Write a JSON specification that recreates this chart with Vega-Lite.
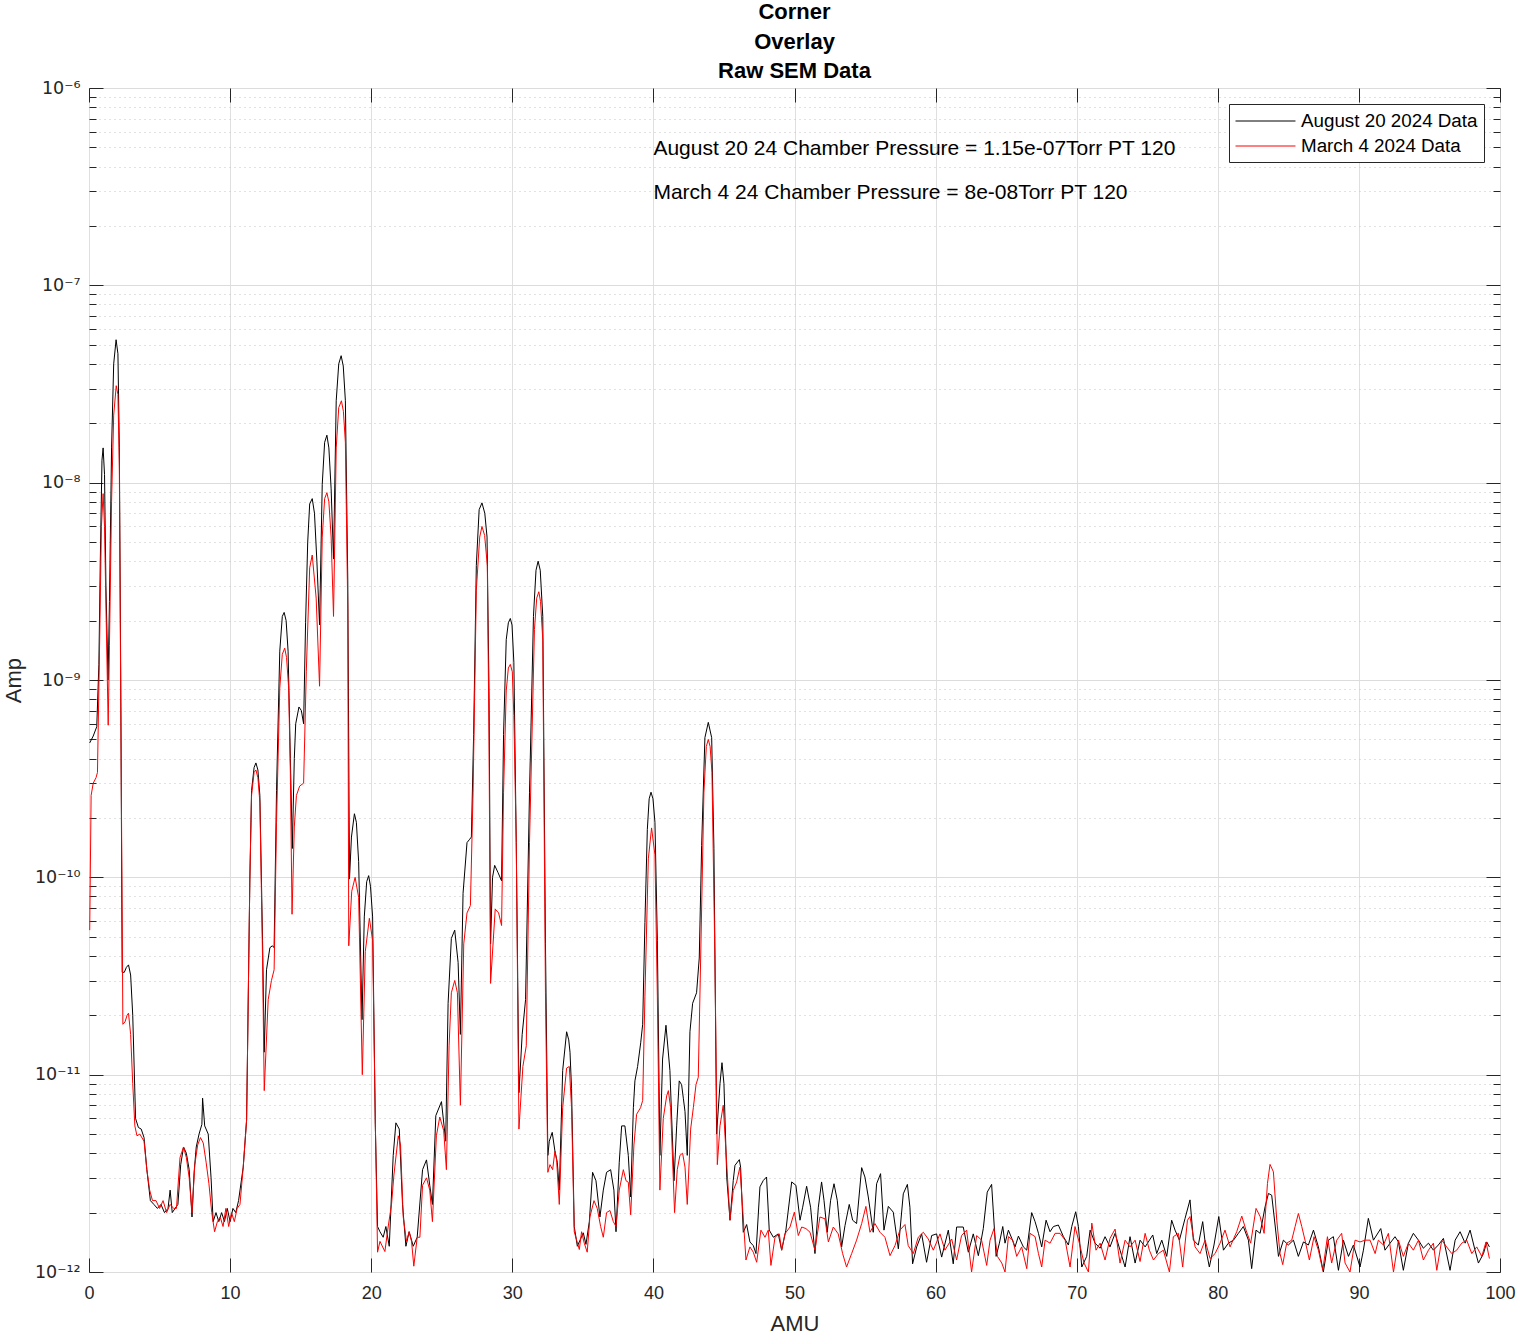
{
  "$schema": "https://vega.github.io/schema/vega-lite/v6.json",
  "autosize": {"type": "none"},
  "width": 1411,
  "height": 1184,
  "padding": {"left": 89, "top": 88, "right": 20, "bottom": 63},
  "background": "white",
  "config": {
    "font": "Liberation Sans",
    "view": {"stroke": "#262626", "strokeWidth": 1}
  },
  "title": {
    "text": ["Corner", "Overlay", "Raw SEM Data"],
    "fontSize": 22,
    "fontWeight": "bold",
    "color": "#000000",
    "lineHeight": 29.5,
    "offset": -4,
    "anchor": "middle"
  },
  "datasets": {
    "aug": [
      {"amu":0.05,"amp":4.8e-10},{"amu":0.3,"amp":5.2e-10},{"amu":0.55,"amp":5.8e-10},{"amu":0.7,"amp":1.2e-9},{"amu":0.8,"amp":4e-9},{"amu":0.92,"amp":1.3e-8},{"amu":1.0,"amp":1.5e-8},{"amu":1.1,"amp":1.1e-8},{"amu":1.2,"amp":3e-9},{"amu":1.35,"amp":1.0e-9},{"amu":1.45,"amp":2.5e-9},{"amu":1.6,"amp":1.5e-8},{"amu":1.75,"amp":4e-8},{"amu":1.92,"amp":5.3e-8},{"amu":2.05,"amp":4.5e-8},{"amu":2.15,"amp":1.5e-8},{"amu":2.25,"amp":1e-9},{"amu":2.35,"amp":3.3e-11},{"amu":2.5,"amp":3.3e-11},{"amu":2.65,"amp":3.5e-11},{"amu":2.8,"amp":3.6e-11},{"amu":2.95,"amp":3.2e-11},{"amu":3.1,"amp":2e-11},{"amu":3.3,"amp":6e-12},{"amu":3.5,"amp":5.4e-12},{"amu":3.7,"amp":5.3e-12},{"amu":3.9,"amp":4.8e-12},{"amu":4.1,"amp":3.3e-12},{"amu":4.35,"amp":2.3e-12},{"amu":4.6,"amp":2.2e-12},{"amu":4.85,"amp":2.1e-12},{"amu":5.1,"amp":2.2e-12},{"amu":5.35,"amp":2.0e-12},{"amu":5.6,"amp":2.1e-12},{"amu":5.75,"amp":2.6e-12},{"amu":5.9,"amp":2.0e-12},{"amu":6.1,"amp":2.1e-12},{"amu":6.3,"amp":2.2e-12},{"amu":6.5,"amp":3.5e-12},{"amu":6.7,"amp":4.3e-12},{"amu":6.9,"amp":4.0e-12},{"amu":7.1,"amp":3.3e-12},{"amu":7.3,"amp":1.9e-12},{"amu":7.45,"amp":3.2e-12},{"amu":7.6,"amp":4.3e-12},{"amu":7.8,"amp":5.0e-12},{"amu":8.0,"amp":5.6e-12},{"amu":8.05,"amp":7.6e-12},{"amu":8.2,"amp":5.5e-12},{"amu":8.45,"amp":5.0e-12},{"amu":8.65,"amp":3e-12},{"amu":8.8,"amp":1.8e-12},{"amu":9.0,"amp":2.0e-12},{"amu":9.2,"amp":1.8e-12},{"amu":9.4,"amp":2.0e-12},{"amu":9.6,"amp":1.8e-12},{"amu":9.8,"amp":2.1e-12},{"amu":10.0,"amp":1.8e-12},{"amu":10.2,"amp":2.1e-12},{"amu":10.4,"amp":2.0e-12},{"amu":10.6,"amp":2.3e-12},{"amu":10.93,"amp":3.4e-12},{"amu":11.17,"amp":5.9e-12},{"amu":11.4,"amp":9.8e-11},{"amu":11.52,"amp":2.75e-10},{"amu":11.7,"amp":3.6e-10},{"amu":11.83,"amp":3.8e-10},{"amu":11.97,"amp":3.5e-10},{"amu":12.11,"amp":2.6e-10},{"amu":12.3,"amp":4.8e-11},{"amu":12.42,"amp":1.3e-11},{"amu":12.58,"amp":3.4e-11},{"amu":12.82,"amp":4.4e-11},{"amu":13.0,"amp":4.5e-11},{"amu":13.12,"amp":4.4e-11},{"amu":13.29,"amp":2.75e-10},{"amu":13.52,"amp":1.4e-9},{"amu":13.7,"amp":2.1e-9},{"amu":13.83,"amp":2.2e-9},{"amu":13.97,"amp":2.0e-9},{"amu":14.11,"amp":1.4e-9},{"amu":14.27,"amp":4.0e-10},{"amu":14.41,"amp":1.4e-10},{"amu":14.55,"amp":4e-10},{"amu":14.65,"amp":6.0e-10},{"amu":14.88,"amp":7.3e-10},{"amu":15.05,"amp":7e-10},{"amu":15.21,"amp":6.0e-10},{"amu":15.35,"amp":1.95e-9},{"amu":15.5,"amp":5e-9},{"amu":15.64,"amp":7.8e-9},{"amu":15.82,"amp":8.3e-9},{"amu":15.98,"amp":7e-9},{"amu":16.15,"amp":4.0e-9},{"amu":16.34,"amp":1.9e-9},{"amu":16.53,"amp":9.8e-9},{"amu":16.7,"amp":1.6e-8},{"amu":16.86,"amp":1.74e-8},{"amu":17.0,"amp":1.5e-8},{"amu":17.16,"amp":9.3e-9},{"amu":17.33,"amp":4.1e-9},{"amu":17.52,"amp":2.6e-8},{"amu":17.7,"amp":4.0e-8},{"amu":17.87,"amp":4.4e-8},{"amu":18.02,"amp":3.9e-8},{"amu":18.17,"amp":2.6e-8},{"amu":18.34,"amp":3.2e-9},{"amu":18.46,"amp":9.8e-11},{"amu":18.6,"amp":1.6e-10},{"amu":18.81,"amp":2.1e-10},{"amu":18.95,"amp":1.9e-10},{"amu":19.11,"amp":1.2e-10},{"amu":19.35,"amp":1.9e-11},{"amu":19.51,"amp":6.3e-11},{"amu":19.68,"amp":9.5e-11},{"amu":19.82,"amp":1.02e-10},{"amu":19.95,"amp":9e-11},{"amu":20.1,"amp":6.3e-11},{"amu":20.29,"amp":5.6e-12},{"amu":20.45,"amp":1.7e-12},{"amu":20.62,"amp":1.6e-12},{"amu":20.85,"amp":1.5e-12},{"amu":21.04,"amp":1.7e-12},{"amu":21.28,"amp":1.35e-12},{"amu":21.56,"amp":3.9e-12},{"amu":21.75,"amp":5.7e-12},{"amu":21.99,"amp":5.3e-12},{"amu":22.22,"amp":2.2e-12},{"amu":22.46,"amp":1.35e-12},{"amu":22.69,"amp":1.6e-12},{"amu":22.98,"amp":1.35e-12},{"amu":23.26,"amp":1.5e-12},{"amu":23.64,"amp":3.3e-12},{"amu":23.92,"amp":3.7e-12},{"amu":24.15,"amp":2.75e-12},{"amu":24.34,"amp":2.2e-12},{"amu":24.58,"amp":6.2e-12},{"amu":24.98,"amp":7.3e-12},{"amu":25.28,"amp":4.6e-12},{"amu":25.45,"amp":2.3e-11},{"amu":25.68,"amp":4.9e-11},{"amu":25.92,"amp":5.4e-11},{"amu":26.16,"amp":3.7e-11},{"amu":26.32,"amp":1.6e-11},{"amu":26.51,"amp":8.3e-11},{"amu":26.79,"amp":1.5e-10},{"amu":26.95,"amp":1.55e-10},{"amu":27.1,"amp":1.6e-10},{"amu":27.26,"amp":5.3e-10},{"amu":27.45,"amp":3.8e-9},{"amu":27.65,"amp":7.3e-9},{"amu":27.85,"amp":7.9e-9},{"amu":28.05,"amp":7e-9},{"amu":28.21,"amp":5.3e-9},{"amu":28.35,"amp":8.7e-10},{"amu":28.46,"amp":4.6e-11},{"amu":28.6,"amp":1e-10},{"amu":28.75,"amp":1.15e-10},{"amu":28.98,"amp":1.06e-10},{"amu":29.24,"amp":9.6e-11},{"amu":29.38,"amp":5.3e-10},{"amu":29.57,"amp":1.6e-9},{"amu":29.72,"amp":1.95e-9},{"amu":29.86,"amp":2.05e-9},{"amu":29.98,"amp":1.9e-9},{"amu":30.11,"amp":1.23e-9},{"amu":30.28,"amp":1.5e-10},{"amu":30.47,"amp":8.1e-12},{"amu":30.7,"amp":1.6e-11},{"amu":30.94,"amp":2.4e-11},{"amu":31.22,"amp":2.7e-10},{"amu":31.5,"amp":2.1e-9},{"amu":31.68,"amp":3.6e-9},{"amu":31.83,"amp":4.0e-9},{"amu":31.98,"amp":3.6e-9},{"amu":32.16,"amp":2.1e-9},{"amu":32.35,"amp":4.6e-11},{"amu":32.52,"amp":3.9e-12},{"amu":32.62,"amp":4.6e-12},{"amu":32.83,"amp":5.1e-12},{"amu":33.02,"amp":4.1e-12},{"amu":33.19,"amp":3.6e-12},{"amu":33.33,"amp":2.6e-12},{"amu":33.57,"amp":1.05e-11},{"amu":33.85,"amp":1.65e-11},{"amu":34.0,"amp":1.5e-11},{"amu":34.09,"amp":1.3e-11},{"amu":34.2,"amp":8.5e-12},{"amu":34.39,"amp":1.7e-12},{"amu":34.61,"amp":1.35e-12},{"amu":34.8,"amp":1.45e-12},{"amu":35.03,"amp":1.58e-12},{"amu":35.22,"amp":1.38e-12},{"amu":35.46,"amp":1.8e-12},{"amu":35.69,"amp":3.2e-12},{"amu":35.93,"amp":2.9e-12},{"amu":36.21,"amp":1.9e-12},{"amu":36.45,"amp":2.6e-12},{"amu":36.68,"amp":3.2e-12},{"amu":36.97,"amp":3.3e-12},{"amu":37.2,"amp":2.6e-12},{"amu":37.35,"amp":1.6e-12},{"amu":37.58,"amp":3.6e-12},{"amu":37.75,"amp":5.5e-12},{"amu":37.98,"amp":5.5e-12},{"amu":38.22,"amp":3.9e-12},{"amu":38.39,"amp":2.4e-12},{"amu":38.58,"amp":6.8e-12},{"amu":38.69,"amp":9.3e-12},{"amu":38.88,"amp":1.1e-11},{"amu":39.1,"amp":1.45e-11},{"amu":39.24,"amp":1.8e-11},{"amu":39.4,"amp":5.9e-11},{"amu":39.57,"amp":1.75e-10},{"amu":39.7,"amp":2.5e-10},{"amu":39.83,"amp":2.7e-10},{"amu":39.97,"amp":2.5e-10},{"amu":40.11,"amp":1.9e-10},{"amu":40.28,"amp":4.8e-11},{"amu":40.46,"amp":3.9e-12},{"amu":40.65,"amp":1.2e-11},{"amu":40.89,"amp":1.78e-11},{"amu":41.17,"amp":1.05e-11},{"amu":41.46,"amp":2.9e-12},{"amu":41.65,"amp":5.5e-12},{"amu":41.83,"amp":9.3e-12},{"amu":42.0,"amp":8.9e-12},{"amu":42.12,"amp":7.6e-12},{"amu":42.24,"amp":6.5e-12},{"amu":42.4,"amp":3.9e-12},{"amu":42.59,"amp":1.65e-11},{"amu":42.78,"amp":2.3e-11},{"amu":43.06,"amp":2.6e-11},{"amu":43.25,"amp":3.9e-11},{"amu":43.42,"amp":1.45e-10},{"amu":43.65,"amp":5.1e-10},{"amu":43.89,"amp":6.1e-10},{"amu":44.13,"amp":5.1e-10},{"amu":44.29,"amp":1.4e-10},{"amu":44.48,"amp":5e-12},{"amu":44.72,"amp":9e-12},{"amu":44.86,"amp":1.15e-11},{"amu":45.0,"amp":9e-12},{"amu":45.2,"amp":3e-12},
      {"amu":45.43,"amp":1.83e-12},{"amu":45.66,"amp":2.91e-12},{"amu":45.78,"amp":3.47e-12},{"amu":46.09,"amp":3.71e-12},{"amu":46.18,"amp":3.40e-12},{"amu":46.37,"amp":1.59e-12},{"amu":46.61,"amp":1.74e-12},{"amu":46.84,"amp":1.42e-12},{"amu":47.08,"amp":1.36e-12},{"amu":47.27,"amp":1.24e-12},{"amu":47.55,"amp":2.70e-12},{"amu":47.79,"amp":2.91e-12},{"amu":48.02,"amp":3.03e-12},{"amu":48.21,"amp":1.63e-12},{"amu":48.5,"amp":1.50e-12},{"amu":48.85,"amp":1.56e-12},{"amu":49.09,"amp":1.29e-12},{"amu":49.39,"amp":1.63e-12},{"amu":49.8,"amp":2.86e-12},{"amu":50.1,"amp":2.75e-12},{"amu":50.39,"amp":1.83e-12},{"amu":50.58,"amp":2.13e-12},{"amu":50.86,"amp":2.72e-12},{"amu":51.14,"amp":2.13e-12},{"amu":51.45,"amp":1.24e-12},{"amu":51.69,"amp":2.13e-12},{"amu":51.92,"amp":2.86e-12},{"amu":52.09,"amp":2.31e-12},{"amu":52.32,"amp":1.59e-12},{"amu":52.56,"amp":2.31e-12},{"amu":52.8,"amp":2.80e-12},{"amu":53.03,"amp":2.31e-12},{"amu":53.34,"amp":1.34e-12},{"amu":53.58,"amp":1.72e-12},{"amu":53.88,"amp":2.20e-12},{"amu":54.12,"amp":1.83e-12},{"amu":54.4,"amp":1.76e-12},{"amu":54.76,"amp":3.38e-12},{"amu":54.99,"amp":3.03e-12},{"amu":55.23,"amp":2.40e-12},{"amu":55.58,"amp":1.59e-12},{"amu":55.82,"amp":2.80e-12},{"amu":56.1,"amp":3.15e-12},{"amu":56.34,"amp":1.63e-12},{"amu":56.65,"amp":2.15e-12},{"amu":57.0,"amp":2.01e-12},{"amu":57.36,"amp":1.31e-12},{"amu":57.71,"amp":2.49e-12},{"amu":58.0,"amp":2.78e-12},{"amu":58.18,"amp":2.13e-12},{"amu":58.37,"amp":1.10e-12},{"amu":58.66,"amp":1.34e-12},{"amu":59.01,"amp":1.56e-12},{"amu":59.36,"amp":1.12e-12},{"amu":59.72,"amp":1.53e-12},{"amu":60.07,"amp":1.56e-12},{"amu":60.43,"amp":1.19e-12},{"amu":60.9,"amp":1.63e-12},{"amu":61.25,"amp":1.10e-12},{"amu":61.49,"amp":1.69e-12},{"amu":61.96,"amp":1.69e-12},{"amu":62.32,"amp":1.26e-12},{"amu":62.67,"amp":1.56e-12},{"amu":63.03,"amp":1.21e-12},{"amu":63.38,"amp":1.66e-12},{"amu":63.66,"amp":2.54e-12},{"amu":63.97,"amp":2.78e-12},
      {"amu":64.29,"amp":1.20e-12},{"amu":64.52,"amp":1.40e-12},{"amu":64.76,"amp":1.70e-12},{"amu":64.92,"amp":1.40e-12},{"amu":65.16,"amp":1.63e-12},{"amu":65.4,"amp":1.48e-12},{"amu":65.63,"amp":1.34e-12},{"amu":65.87,"amp":1.52e-12},{"amu":66.22,"amp":1.34e-12},{"amu":66.46,"amp":1.29e-12},{"amu":66.81,"amp":2.0e-12},{"amu":67.05,"amp":1.80e-12},{"amu":67.29,"amp":1.57e-12},{"amu":67.52,"amp":1.34e-12},{"amu":67.83,"amp":1.83e-12},{"amu":68.11,"amp":1.60e-12},{"amu":68.35,"amp":1.70e-12},{"amu":68.7,"amp":1.73e-12},{"amu":69.06,"amp":1.51e-12},{"amu":69.41,"amp":1.37e-12},{"amu":69.65,"amp":1.70e-12},{"amu":69.93,"amp":2.02e-12},{"amu":70.12,"amp":1.70e-12},{"amu":70.36,"amp":1.06e-12},{"amu":70.71,"amp":1.20e-12},{"amu":70.95,"amp":1.63e-12},{"amu":71.3,"amp":1.40e-12},{"amu":71.66,"amp":1.32e-12},{"amu":72.01,"amp":1.51e-12},{"amu":72.36,"amp":1.34e-12},{"amu":72.72,"amp":1.57e-12},{"amu":73.07,"amp":1.29e-12},{"amu":73.43,"amp":1.06e-12},{"amu":73.78,"amp":1.51e-12},{"amu":74.14,"amp":1.11e-12},{"amu":74.49,"amp":1.45e-12},{"amu":74.85,"amp":1.34e-12},{"amu":75.39,"amp":1.54e-12},{"amu":75.67,"amp":1.24e-12},{"amu":76.03,"amp":1.45e-12},{"amu":76.38,"amp":1.20e-12},{"amu":76.73,"amp":1.83e-12},{"amu":76.97,"amp":1.63e-12},{"amu":77.28,"amp":1.45e-12},{"amu":77.68,"amp":1.87e-12},{"amu":78.03,"amp":2.32e-12},{"amu":78.27,"amp":1.45e-12},{"amu":78.62,"amp":1.37e-12},{"amu":78.93,"amp":1.80e-12},{"amu":79.17,"amp":1.29e-12},{"amu":79.4,"amp":1.06e-12},{"amu":79.73,"amp":1.37e-12},{"amu":80.07,"amp":1.91e-12},{"amu":80.4,"amp":1.29e-12},{"amu":80.75,"amp":1.40e-12},{"amu":81.11,"amp":1.45e-12},{"amu":81.46,"amp":1.57e-12},{"amu":81.81,"amp":1.70e-12},{"amu":82.17,"amp":1.45e-12},{"amu":82.4,"amp":1.04e-12},{"amu":82.71,"amp":1.63e-12},{"amu":83.0,"amp":1.57e-12},{"amu":83.35,"amp":2.14e-12},{"amu":83.59,"amp":2.50e-12},{"amu":83.82,"amp":2.45e-12},{"amu":84.06,"amp":1.73e-12},{"amu":84.3,"amp":1.20e-12},{"amu":84.65,"amp":1.45e-12},{"amu":85.0,"amp":1.37e-12},{"amu":85.36,"amp":1.45e-12},{"amu":85.71,"amp":1.20e-12},{"amu":86.07,"amp":1.42e-12},{"amu":86.42,"amp":1.37e-12},{"amu":86.78,"amp":1.63e-12},{"amu":87.13,"amp":1.34e-12},{"amu":87.48,"amp":1.0e-12},{"amu":87.84,"amp":1.45e-12},{"amu":88.19,"amp":1.51e-12},{"amu":88.55,"amp":1.02e-12},{"amu":88.9,"amp":1.45e-12},{"amu":89.26,"amp":1.20e-12},{"amu":89.61,"amp":1.37e-12},{"amu":90.08,"amp":1.06e-12},{"amu":90.32,"amp":1.29e-12},{"amu":90.67,"amp":1.87e-12},{"amu":91.03,"amp":1.45e-12},{"amu":91.55,"amp":1.66e-12},{"amu":91.85,"amp":1.29e-12},{"amu":92.21,"amp":1.40e-12},{"amu":92.56,"amp":1.51e-12},{"amu":92.8,"amp":1.42e-12},{"amu":93.15,"amp":1.02e-12},{"amu":93.51,"amp":1.40e-12},{"amu":93.86,"amp":1.57e-12},{"amu":94.22,"amp":1.45e-12},{"amu":94.57,"amp":1.32e-12},{"amu":94.93,"amp":1.40e-12},{"amu":95.28,"amp":1.29e-12},{"amu":95.63,"amp":1.37e-12},{"amu":95.99,"amp":1.48e-12},{"amu":96.46,"amp":1.02e-12},{"amu":96.82,"amp":1.45e-12},{"amu":97.17,"amp":1.60e-12},{"amu":97.53,"amp":1.40e-12},{"amu":97.88,"amp":1.63e-12},{"amu":98.23,"amp":1.29e-12},{"amu":98.47,"amp":1.11e-12},{"amu":98.83,"amp":1.24e-12},{"amu":99.06,"amp":1.42e-12},{"amu":99.25,"amp":1.34e-12}
    ],
    "mar": [
      {"amu":0.05,"amp":5.4e-11},{"amu":0.15,"amp":2.6e-10},{"amu":0.3,"amp":3.0e-10},{"amu":0.5,"amp":3.2e-10},{"amu":0.6,"amp":3.4e-10},{"amu":0.75,"amp":1.5e-9},{"amu":0.88,"amp":6e-9},{"amu":1.0,"amp":8.8e-9},{"amu":1.1,"amp":6e-9},{"amu":1.22,"amp":2e-9},{"amu":1.36,"amp":5.9e-10},{"amu":1.45,"amp":1.5e-9},{"amu":1.6,"amp":8e-9},{"amu":1.75,"amp":2.2e-8},{"amu":1.93,"amp":3.1e-8},{"amu":2.05,"amp":2.8e-8},{"amu":2.15,"amp":1.2e-8},{"amu":2.25,"amp":8e-10},{"amu":2.4,"amp":1.8e-11},{"amu":2.55,"amp":1.85e-11},{"amu":2.7,"amp":2.0e-11},{"amu":2.8,"amp":2.05e-11},{"amu":2.95,"amp":1.6e-11},{"amu":3.1,"amp":9e-12},{"amu":3.25,"amp":5.5e-12},{"amu":3.4,"amp":4.9e-12},{"amu":3.6,"amp":5.0e-12},{"amu":3.9,"amp":4.6e-12},{"amu":4.1,"amp":3.3e-12},{"amu":4.3,"amp":2.6e-12},{"amu":4.5,"amp":2.3e-12},{"amu":4.75,"amp":2.3e-12},{"amu":5.0,"amp":2.1e-12},{"amu":5.25,"amp":2.3e-12},{"amu":5.5,"amp":2.0e-12},{"amu":5.75,"amp":2.2e-12},{"amu":6.0,"amp":2.1e-12},{"amu":6.2,"amp":2.1e-12},{"amu":6.45,"amp":3.8e-12},{"amu":6.7,"amp":4.3e-12},{"amu":6.9,"amp":3.8e-12},{"amu":7.1,"amp":3.0e-12},{"amu":7.3,"amp":2.0e-12},{"amu":7.5,"amp":3.5e-12},{"amu":7.7,"amp":4.4e-12},{"amu":7.9,"amp":4.8e-12},{"amu":8.1,"amp":4.5e-12},{"amu":8.3,"amp":3.6e-12},{"amu":8.5,"amp":2.8e-12},{"amu":8.7,"amp":2.0e-12},{"amu":8.9,"amp":1.6e-12},{"amu":9.1,"amp":1.8e-12},{"amu":9.3,"amp":1.9e-12},{"amu":9.5,"amp":1.7e-12},{"amu":9.7,"amp":2.1e-12},{"amu":9.9,"amp":1.7e-12},{"amu":10.1,"amp":2.0e-12},{"amu":10.3,"amp":1.8e-12},{"amu":10.5,"amp":2.1e-12},{"amu":10.7,"amp":2.2e-12},{"amu":10.93,"amp":3.4e-12},{"amu":11.17,"amp":5.9e-12},{"amu":11.4,"amp":9.8e-11},{"amu":11.52,"amp":2.6e-10},{"amu":11.7,"amp":3.4e-10},{"amu":11.83,"amp":3.5e-10},{"amu":11.97,"amp":3.2e-10},{"amu":12.11,"amp":2.4e-10},{"amu":12.3,"amp":3.9e-11},{"amu":12.42,"amp":8.3e-12},{"amu":12.7,"amp":2.4e-11},{"amu":12.93,"amp":3e-11},{"amu":13.12,"amp":3.4e-11},{"amu":13.29,"amp":1.9e-10},{"amu":13.52,"amp":9.1e-10},{"amu":13.7,"amp":1.35e-9},{"amu":13.87,"amp":1.45e-9},{"amu":14.0,"amp":1.3e-9},{"amu":14.15,"amp":9.1e-10},{"amu":14.27,"amp":3.4e-10},{"amu":14.39,"amp":6.5e-11},{"amu":14.55,"amp":1.8e-10},{"amu":14.7,"amp":2.6e-10},{"amu":14.93,"amp":2.9e-10},{"amu":15.21,"amp":3.0e-10},{"amu":15.4,"amp":1.1e-9},{"amu":15.64,"amp":3.7e-9},{"amu":15.82,"amp":4.3e-9},{"amu":16.1,"amp":2.6e-9},{"amu":16.34,"amp":9.3e-10},{"amu":16.53,"amp":5.3e-9},{"amu":16.7,"amp":8.3e-9},{"amu":16.86,"amp":8.9e-9},{"amu":17.0,"amp":8e-9},{"amu":17.16,"amp":5.3e-9},{"amu":17.33,"amp":2.1e-9},{"amu":17.52,"amp":1.5e-8},{"amu":17.7,"amp":2.4e-8},{"amu":17.89,"amp":2.6e-8},{"amu":18.03,"amp":2.3e-8},{"amu":18.17,"amp":1.6e-8},{"amu":18.34,"amp":2.3e-9},{"amu":18.41,"amp":4.5e-11},{"amu":18.62,"amp":8.5e-11},{"amu":18.86,"amp":1e-10},{"amu":19.11,"amp":7.9e-11},{"amu":19.37,"amp":1e-11},{"amu":19.58,"amp":4.2e-11},{"amu":19.87,"amp":6.2e-11},{"amu":20.1,"amp":4.8e-11},{"amu":20.29,"amp":5.9e-12},{"amu":20.45,"amp":1.26e-12},{"amu":20.62,"amp":1.43e-12},{"amu":20.97,"amp":1.27e-12},{"amu":21.21,"amp":1.71e-12},{"amu":21.44,"amp":2.2e-12},{"amu":21.61,"amp":3.1e-12},{"amu":21.92,"amp":4.9e-12},{"amu":22.08,"amp":4.4e-12},{"amu":22.27,"amp":1.9e-12},{"amu":22.5,"amp":1.43e-12},{"amu":22.69,"amp":1.6e-12},{"amu":22.86,"amp":1.43e-12},{"amu":23.02,"amp":1.07e-12},{"amu":23.26,"amp":1.5e-12},{"amu":23.45,"amp":1.5e-12},{"amu":23.64,"amp":2.75e-12},{"amu":23.92,"amp":3.0e-12},{"amu":24.15,"amp":2.6e-12},{"amu":24.34,"amp":1.8e-12},{"amu":24.62,"amp":4.9e-12},{"amu":24.86,"amp":6.1e-12},{"amu":25.14,"amp":5.2e-12},{"amu":25.33,"amp":3.3e-12},{"amu":25.52,"amp":1.4e-11},{"amu":25.68,"amp":2.6e-11},{"amu":25.92,"amp":3.0e-11},{"amu":26.11,"amp":2.6e-11},{"amu":26.32,"amp":7e-12},{"amu":26.56,"amp":4.6e-11},{"amu":26.79,"amp":6.6e-11},{"amu":27.03,"amp":7.2e-11},{"amu":27.22,"amp":2.7e-10},{"amu":27.45,"amp":2.85e-9},{"amu":27.69,"amp":5.3e-9},{"amu":27.85,"amp":6.0e-9},{"amu":28.04,"amp":5.4e-9},{"amu":28.23,"amp":3.8e-9},{"amu":28.35,"amp":4.9e-10},{"amu":28.46,"amp":2.9e-11},{"amu":28.79,"amp":6.9e-11},{"amu":29.03,"amp":6.6e-11},{"amu":29.24,"amp":5.7e-11},{"amu":29.38,"amp":2.7e-10},{"amu":29.57,"amp":8.8e-10},{"amu":29.72,"amp":1.15e-9},{"amu":29.86,"amp":1.2e-9},{"amu":30.0,"amp":1.1e-9},{"amu":30.11,"amp":6.6e-10},{"amu":30.28,"amp":1.5e-10},{"amu":30.47,"amp":5.3e-12},{"amu":30.75,"amp":1.1e-11},{"amu":30.99,"amp":1.4e-11},{"amu":31.22,"amp":1.5e-10},{"amu":31.57,"amp":1.8e-9},{"amu":31.73,"amp":2.6e-9},{"amu":31.88,"amp":2.8e-9},{"amu":32.0,"amp":2.5e-9},{"amu":32.16,"amp":1.6e-9},{"amu":32.35,"amp":2.6e-11},{"amu":32.52,"amp":3.2e-12},{"amu":32.67,"amp":3.5e-12},{"amu":32.86,"amp":3.3e-12},{"amu":33.02,"amp":4.1e-12},{"amu":33.14,"amp":3.7e-12},{"amu":33.33,"amp":2.2e-12},{"amu":33.57,"amp":6.8e-12},{"amu":33.85,"amp":1.08e-11},{"amu":34.04,"amp":1.1e-11},{"amu":34.2,"amp":6.8e-12},{"amu":34.39,"amp":1.6e-12},{"amu":34.56,"amp":1.45e-12},{"amu":34.75,"amp":1.3e-12},{"amu":34.91,"amp":1.6e-12},{"amu":35.1,"amp":1.4e-12},{"amu":35.31,"amp":1.26e-12},{"amu":35.5,"amp":1.9e-12},{"amu":35.79,"amp":2.3e-12},{"amu":36.02,"amp":2.1e-12},{"amu":36.26,"amp":1.7e-12},{"amu":36.45,"amp":1.5e-12},{"amu":36.68,"amp":2.0e-12},{"amu":36.92,"amp":2.05e-12},{"amu":37.16,"amp":1.8e-12},{"amu":37.35,"amp":1.7e-12},{"amu":37.58,"amp":2.6e-12},{"amu":37.87,"amp":3.3e-12},{"amu":38.06,"amp":2.9e-12},{"amu":38.22,"amp":2.85e-12},{"amu":38.39,"amp":1.95e-12},{"amu":38.62,"amp":4.4e-12},{"amu":38.81,"amp":6.3e-12},{"amu":39.09,"amp":6.8e-12},{"amu":39.24,"amp":7.4e-12},{"amu":39.4,"amp":2.5e-11},{"amu":39.64,"amp":1.24e-10},{"amu":39.87,"amp":1.78e-10},{"amu":40.11,"amp":1.3e-10},{"amu":40.28,"amp":2.5e-11},{"amu":40.46,"amp":2.6e-12},{"amu":40.7,"amp":6.0e-12},{"amu":40.94,"amp":7.8e-12},{"amu":41.06,"amp":8.3e-12},{"amu":41.22,"amp":6.8e-12},{"amu":41.5,"amp":2.0e-12},{"amu":41.69,"amp":3.3e-12},{"amu":41.88,"amp":3.9e-12},{"amu":42.07,"amp":4.0e-12},{"amu":42.24,"amp":3.4e-12},{"amu":42.4,"amp":2.2e-12},{"amu":42.64,"amp":5.3e-12},{"amu":42.83,"amp":6.8e-12},{"amu":43.02,"amp":8.9e-12},{"amu":43.18,"amp":9.7e-12},{"amu":43.35,"amp":3.9e-11},{"amu":43.58,"amp":2.7e-10},{"amu":43.75,"amp":4.6e-10},{"amu":43.89,"amp":5.0e-10},{"amu":44.02,"amp":4.6e-10},{"amu":44.15,"amp":3.4e-10},{"amu":44.36,"amp":3.9e-11},{"amu":44.53,"amp":3.5e-12},{"amu":44.72,"amp":5.5e-12},{"amu":44.95,"amp":7e-12},{"amu":45.15,"amp":4e-12},
      {"amu":45.43,"amp":1.83e-12},{"amu":45.66,"amp":2.59e-12},{"amu":45.9,"amp":2.86e-12},{"amu":46.13,"amp":3.40e-12},{"amu":46.32,"amp":2.13e-12},{"amu":46.56,"amp":1.15e-12},{"amu":46.84,"amp":1.34e-12},{"amu":47.08,"amp":1.26e-12},{"amu":47.32,"amp":1.12e-12},{"amu":47.62,"amp":1.63e-12},{"amu":47.91,"amp":1.50e-12},{"amu":48.14,"amp":1.63e-12},{"amu":48.33,"amp":1.08e-12},{"amu":48.62,"amp":1.50e-12},{"amu":48.92,"amp":1.56e-12},{"amu":49.09,"amp":1.29e-12},{"amu":49.32,"amp":1.56e-12},{"amu":49.68,"amp":1.69e-12},{"amu":49.99,"amp":2.01e-12},{"amu":50.27,"amp":1.53e-12},{"amu":50.51,"amp":1.69e-12},{"amu":50.81,"amp":1.66e-12},{"amu":51.1,"amp":1.59e-12},{"amu":51.45,"amp":1.29e-12},{"amu":51.8,"amp":1.90e-12},{"amu":52.16,"amp":1.86e-12},{"amu":52.4,"amp":1.42e-12},{"amu":52.75,"amp":1.69e-12},{"amu":53.1,"amp":1.56e-12},{"amu":53.41,"amp":1.24e-12},{"amu":53.69,"amp":1.06e-12},{"amu":54.05,"amp":1.24e-12},{"amu":54.4,"amp":1.45e-12},{"amu":54.76,"amp":1.76e-12},{"amu":55.06,"amp":2.15e-12},{"amu":55.35,"amp":1.59e-12},{"amu":55.7,"amp":1.76e-12},{"amu":56.06,"amp":1.59e-12},{"amu":56.41,"amp":1.50e-12},{"amu":56.77,"amp":1.21e-12},{"amu":57.12,"amp":1.36e-12},{"amu":57.47,"amp":1.63e-12},{"amu":57.83,"amp":1.74e-12},{"amu":58.06,"amp":1.36e-12},{"amu":58.42,"amp":1.24e-12},{"amu":58.77,"amp":1.50e-12},{"amu":59.13,"amp":1.59e-12},{"amu":59.48,"amp":1.47e-12},{"amu":59.84,"amp":1.29e-12},{"amu":60.31,"amp":1.56e-12},{"amu":60.66,"amp":1.29e-12},{"amu":61.14,"amp":1.47e-12},{"amu":61.49,"amp":1.15e-12},{"amu":61.84,"amp":1.53e-12},{"amu":62.2,"amp":1.63e-12},{"amu":62.55,"amp":1.0e-12},{"amu":62.91,"amp":1.53e-12},{"amu":63.26,"amp":1.45e-12},{"amu":63.62,"amp":1.08e-12},
      {"amu":63.86,"amp":1.45e-12},{"amu":64.14,"amp":1.66e-12},{"amu":64.38,"amp":1.20e-12},{"amu":64.69,"amp":1.11e-12},{"amu":64.92,"amp":1.0e-12},{"amu":65.16,"amp":1.51e-12},{"amu":65.47,"amp":1.45e-12},{"amu":65.75,"amp":1.20e-12},{"amu":66.1,"amp":1.34e-12},{"amu":66.46,"amp":1.04e-12},{"amu":66.69,"amp":1.57e-12},{"amu":67.05,"amp":1.51e-12},{"amu":67.29,"amp":1.24e-12},{"amu":67.52,"amp":1.06e-12},{"amu":67.76,"amp":1.45e-12},{"amu":68.11,"amp":1.40e-12},{"amu":68.47,"amp":1.57e-12},{"amu":68.82,"amp":1.57e-12},{"amu":69.18,"amp":1.45e-12},{"amu":69.53,"amp":1.06e-12},{"amu":69.88,"amp":1.70e-12},{"amu":70.19,"amp":1.40e-12},{"amu":70.52,"amp":1.11e-12},{"amu":70.83,"amp":1.0e-12},{"amu":71.07,"amp":1.77e-12},{"amu":71.37,"amp":1.29e-12},{"amu":71.66,"amp":1.40e-12},{"amu":72.01,"amp":1.15e-12},{"amu":72.36,"amp":1.48e-12},{"amu":72.72,"amp":1.65e-12},{"amu":73.07,"amp":1.11e-12},{"amu":73.43,"amp":1.45e-12},{"amu":73.78,"amp":1.34e-12},{"amu":74.14,"amp":1.45e-12},{"amu":74.49,"amp":1.13e-12},{"amu":74.85,"amp":1.57e-12},{"amu":75.15,"amp":1.29e-12},{"amu":75.44,"amp":1.15e-12},{"amu":75.79,"amp":1.24e-12},{"amu":76.14,"amp":1.29e-12},{"amu":76.57,"amp":1.0e-12},{"amu":76.85,"amp":1.51e-12},{"amu":77.21,"amp":1.57e-12},{"amu":77.51,"amp":1.06e-12},{"amu":77.85,"amp":1.83e-12},{"amu":78.03,"amp":1.91e-12},{"amu":78.39,"amp":1.34e-12},{"amu":78.74,"amp":1.24e-12},{"amu":79.1,"amp":1.45e-12},{"amu":79.45,"amp":1.17e-12},{"amu":79.81,"amp":1.24e-12},{"amu":80.16,"amp":1.40e-12},{"amu":80.51,"amp":1.63e-12},{"amu":80.87,"amp":1.34e-12},{"amu":81.34,"amp":1.60e-12},{"amu":81.7,"amp":1.92e-12},{"amu":82.0,"amp":1.63e-12},{"amu":82.33,"amp":1.40e-12},{"amu":82.71,"amp":2.10e-12},{"amu":83.0,"amp":1.91e-12},{"amu":83.28,"amp":1.57e-12},{"amu":83.52,"amp":2.81e-12},{"amu":83.7,"amp":3.51e-12},{"amu":83.94,"amp":3.22e-12},{"amu":84.18,"amp":1.83e-12},{"amu":84.41,"amp":1.24e-12},{"amu":84.6,"amp":1.09e-12},{"amu":84.88,"amp":1.40e-12},{"amu":85.24,"amp":1.45e-12},{"amu":85.48,"amp":1.70e-12},{"amu":85.71,"amp":1.98e-12},{"amu":85.95,"amp":1.70e-12},{"amu":86.18,"amp":1.45e-12},{"amu":86.49,"amp":1.15e-12},{"amu":86.82,"amp":1.51e-12},{"amu":87.13,"amp":1.29e-12},{"amu":87.44,"amp":1.02e-12},{"amu":87.77,"amp":1.51e-12},{"amu":88.07,"amp":1.11e-12},{"amu":88.43,"amp":1.45e-12},{"amu":88.78,"amp":1.57e-12},{"amu":89.02,"amp":1.11e-12},{"amu":89.37,"amp":1.0e-12},{"amu":89.73,"amp":1.45e-12},{"amu":90.08,"amp":1.42e-12},{"amu":90.44,"amp":1.45e-12},{"amu":90.79,"amp":1.45e-12},{"amu":91.15,"amp":1.24e-12},{"amu":91.38,"amp":1.45e-12},{"amu":91.74,"amp":1.37e-12},{"amu":92.09,"amp":1.57e-12},{"amu":92.45,"amp":1.0e-12},{"amu":92.8,"amp":1.45e-12},{"amu":93.15,"amp":1.20e-12},{"amu":93.51,"amp":1.40e-12},{"amu":93.86,"amp":1.29e-12},{"amu":94.22,"amp":1.45e-12},{"amu":94.57,"amp":1.15e-12},{"amu":94.93,"amp":1.29e-12},{"amu":95.28,"amp":1.40e-12},{"amu":95.52,"amp":1.02e-12},{"amu":95.87,"amp":1.45e-12},{"amu":96.22,"amp":1.34e-12},{"amu":96.58,"amp":1.24e-12},{"amu":96.93,"amp":1.29e-12},{"amu":97.29,"amp":1.40e-12},{"amu":97.64,"amp":1.45e-12},{"amu":98.0,"amp":1.24e-12},{"amu":98.35,"amp":1.34e-12},{"amu":98.71,"amp":1.20e-12},{"amu":99.01,"amp":1.42e-12},{"amu":99.25,"amp":1.17e-12}
    ]
  },
  "layer": [
    {
      "data": {"name": "aug"},
      "mark": {"type": "line", "strokeWidth": 1, "clip": true},
      "encoding": {
        "x": {
          "field": "amu", "type": "quantitative",
          "scale": {"domain": [0, 100], "nice": false, "zero": false},
          "axis": {
            "orient": "bottom",
            "values": [0, 10, 20, 30, 40, 50, 60, 70, 80, 90, 100],
            "title": "AMU",
            "titleFontSize": 22, "titleFontWeight": "normal", "titleColor": "#262626", "titlePadding": 11,
            "labelFontSize": 18, "labelColor": "#262626", "labelPadding": 26, "labelFlush": false, "labelOverlap": false,
            "tickSize": -14, "tickColor": "#262626",
            "grid": true, "gridColor": "#dfdfdf", "gridWidth": 1,
            "domain": false
          }
        },
        "y": {
          "field": "amp", "type": "quantitative",
          "scale": {"type": "log", "domain": [1e-12, 1e-6], "nice": false},
          "axis": {
            "orient": "left",
            "values": [1e-12,2e-12,3e-12,4e-12,5e-12,6e-12,7e-12,8e-12,9e-12,1e-11,2e-11,3e-11,4e-11,5e-11,6e-11,7e-11,8e-11,9e-11,1e-10,2e-10,3e-10,4e-10,5e-10,6e-10,7e-10,8e-10,9e-10,1e-9,2e-9,3e-9,4e-9,5e-9,6e-9,7e-9,8e-9,9e-9,1e-8,2e-8,3e-8,4e-8,5e-8,6e-8,7e-8,8e-8,9e-8,1e-7,2e-7,3e-7,4e-7,5e-7,6e-7,7e-7,8e-7,9e-7,1e-6],
            "labelExpr": "abs(log(datum.value)/LN10 - round(log(datum.value)/LN10)) > 0.001 ? '' : '10' + ['⁻¹²','⁻¹¹','⁻¹⁰','⁻⁹','⁻⁸','⁻⁷','⁻⁶'][round(log(datum.value)/LN10) + 12]",
            "title": "Amp",
            "titleFontSize": 22, "titleFontWeight": "normal", "titleColor": "#262626", "titlePadding": 9,
            "labelFont": "DejaVu Sans",
            "labelFontSize": 17.5, "labelColor": "#262626", "labelPadding": 23, "labelFlush": false, "labelOverlap": false,
            "tickColor": "#262626",
            "tickSize": {"condition": {"test": "abs(log(datum.value)/LN10 - round(log(datum.value)/LN10)) < 0.001", "value": -14}, "value": -7},
            "grid": true,
            "gridColor": {"condition": {"test": "abs(log(datum.value)/LN10 - round(log(datum.value)/LN10)) < 0.001", "value": "#dcdcdc"}, "value": "#c4c4c4"},
            "gridDash": {"condition": {"test": "abs(log(datum.value)/LN10 - round(log(datum.value)/LN10)) < 0.001", "value": []}, "value": [1, 4]},
            "domain": false
          }
        },
        "color": {
          "datum": "August 20 2024 Data", "type": "nominal",
          "scale": {"domain": ["August 20 2024 Data", "March 4 2024 Data"], "range": ["#000000", "#ff0000"]},
          "legend": {
            "orient": "top-right", "offset": 16, "title": null,
            "strokeColor": "#262626", "fillColor": "#ffffff", "padding": 6,
            "symbolType": "M-2.857,0H2.857", "symbolSize": 441, "symbolStrokeWidth": 1, "symbolOffset": 19.5,
            "labelFontSize": 18.8, "labelColor": "#000000", "labelOffset": 24.5, "labelLimit": 400, "rowPadding": 4,
            "encode": {"symbols": {"update": {"stroke": {"scale": "color", "field": "value"}, "strokeWidth": {"value": 1}}}}
          }
        }
      }
    },
    {
      "data": {"name": "mar"},
      "mark": {"type": "line", "strokeWidth": 1, "clip": true},
      "encoding": {
        "x": {
          "field": "amu", "type": "quantitative",
          "axis": {
            "orient": "top", "values": [0, 10, 20, 30, 40, 50, 60, 70, 80, 90, 100],
            "labels": false, "title": null, "grid": false, "domain": false,
            "tickSize": -14, "tickColor": "#262626"
          }
        },
        "y": {
          "field": "amp", "type": "quantitative",
          "axis": {
            "orient": "right",
            "values": [1e-12,2e-12,3e-12,4e-12,5e-12,6e-12,7e-12,8e-12,9e-12,1e-11,2e-11,3e-11,4e-11,5e-11,6e-11,7e-11,8e-11,9e-11,1e-10,2e-10,3e-10,4e-10,5e-10,6e-10,7e-10,8e-10,9e-10,1e-9,2e-9,3e-9,4e-9,5e-9,6e-9,7e-9,8e-9,9e-9,1e-8,2e-8,3e-8,4e-8,5e-8,6e-8,7e-8,8e-8,9e-8,1e-7,2e-7,3e-7,4e-7,5e-7,6e-7,7e-7,8e-7,9e-7,1e-6],
            "labels": false, "title": null, "grid": false, "domain": false,
            "tickColor": "#262626",
            "tickSize": {"condition": {"test": "abs(log(datum.value)/LN10 - round(log(datum.value)/LN10)) < 0.001", "value": -14}, "value": -7}
          }
        },
        "color": {"datum": "March 4 2024 Data", "type": "nominal"}
      }
    },
    {
      "data": {"values": [{}]},
      "mark": {"type": "text", "align": "left", "baseline": "middle", "fontSize": 21, "color": "#000000"},
      "encoding": {
        "x": {"datum": 40, "type": "quantitative", "axis": null},
        "y": {"datum": 4.9e-7, "type": "quantitative", "axis": null},
        "text": {"value": "August 20 24 Chamber Pressure = 1.15e-07Torr PT 120"}
      }
    },
    {
      "data": {"values": [{}]},
      "mark": {"type": "text", "align": "left", "baseline": "middle", "fontSize": 21, "color": "#000000"},
      "encoding": {
        "x": {"datum": 40, "type": "quantitative", "axis": null},
        "y": {"datum": 2.95e-7, "type": "quantitative", "axis": null},
        "text": {"value": "March 4 24 Chamber Pressure = 8e-08Torr PT 120"}
      }
    }
  ],
  "resolve": {"axis": {"x": "independent", "y": "independent"}}
}
